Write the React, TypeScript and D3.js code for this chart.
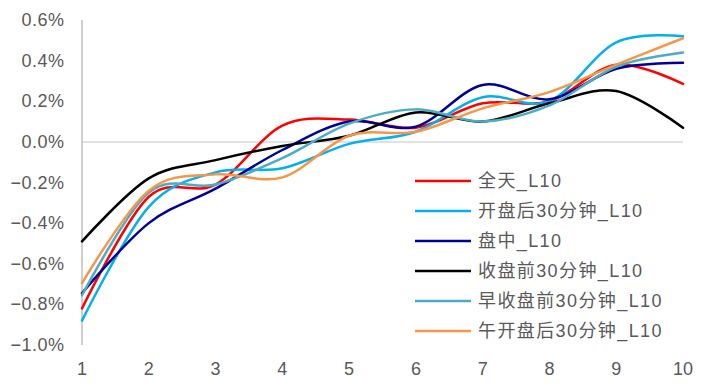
import React from "react";
import * as d3 from "d3";

const categories = [1, 2, 3, 4, 5, 6, 7, 8, 9, 10];
const yTicks = [-1.0, -0.8, -0.6, -0.4, -0.2, 0.0, 0.2, 0.4, 0.6];

const seriesNames = [
  "全天_L10",
  "开盘后30分钟_L10",
  "盘中_L10",
  "收盘前30分钟_L10",
  "早收盘前30分钟_L10",
  "午开盘后30分钟_L10",
];
const seriesColors = ["#FF0000", "#00B0F0", "#000099", "#000000", "#4BACC6", "#F79646"];

const allDay = [-0.82, -0.27, -0.21, 0.08, 0.11, 0.07, 0.19, 0.2, 0.38, 0.285];
const open30 = [-0.88, -0.32, -0.15, -0.13, -0.01, 0.05, 0.22, 0.2, 0.49, 0.52];
const intraday = [-0.745, -0.4, -0.23, -0.04, 0.1, 0.075, 0.28, 0.21, 0.36, 0.39];
const close30 = [-0.49, -0.18, -0.09, -0.02, 0.03, 0.145, 0.1, 0.19, 0.25, 0.07];
const amClose30 = [-0.755, -0.25, -0.21, -0.08, 0.09, 0.16, 0.1, 0.18, 0.37, 0.44];
const pmOpen30 = [-0.695, -0.24, -0.16, -0.175, 0.03, 0.05, 0.165, 0.245, 0.38, 0.51];

const seriesValues = [allDay, open30, intraday, close30, amClose30, pmOpen30];

const W = 702;
const H = 390;
const left = 82;
const right = 683;
const top = 20;
const bottom = 345;
const font = "'Liberation Sans', Arial, 'Noto Sans CJK SC', sans-serif";

export default function App() {
  const x = d3.scaleLinear().domain([1, 10]).range([left, right]);
  const y = d3.scaleLinear().domain([-1.0, 0.6]).range([bottom, top]);
  const line = d3
    .line<number>()
    .x((_, i) => x(categories[i]))
    .y((d) => y(d))
    .curve(d3.curveCardinal.tension(0));

  return (
    <svg
      width={W}
      height={H}
      style={{ position: "absolute", left: 0, top: 0, background: "#fff" }}
      fontFamily={font}
    >
      <rect width={W} height={H} fill="#fff" />
      {/* zero line (category axis) */}
      <line x1={left} x2={right} y1={y(0)} y2={y(0)} stroke="#D9D9D9" strokeWidth={1.5} />
      {/* value axis */}
      <line x1={left} x2={left} y1={top} y2={bottom} stroke="#BFBFBF" strokeWidth={1.5} />
      {yTicks.map((t) => (
        <text
          key={t}
          x={64.5}
          y={y(t)}
          textAnchor="end"
          dominantBaseline="central"
          fontSize={18}
          letterSpacing={0.5}
          fill="#595959"
        >
          {d3.format(".1f")(t) + "%"}
        </text>
      ))}
      {categories.map((c) => (
        <text
          key={c}
          x={x(c)}
          y={369}
          textAnchor="middle"
          dominantBaseline="central"
          fontSize={18}
          fill="#595959"
        >
          {c}
        </text>
      ))}
      {seriesValues.map((vals, i) => (
        <path
          key={seriesNames[i]}
          d={line(vals) || ""}
          fill="none"
          stroke={seriesColors[i]}
          strokeWidth={2.5}
          strokeLinejoin="round"
          strokeLinecap="round"
        />
      ))}
      {seriesNames.map((name, i) => {
        const ly = 181 + i * 30;
        return (
          <g key={name}>
            <line x1={415} x2={471} y1={ly} y2={ly} stroke={seriesColors[i]} strokeWidth={2.5} />
            <text
              x={478}
              y={ly}
              dominantBaseline="central"
              fontSize={18}
              letterSpacing={1.4}
              fill="#595959"
            >
              {name}
            </text>
          </g>
        );
      })}
    </svg>
  );
}
